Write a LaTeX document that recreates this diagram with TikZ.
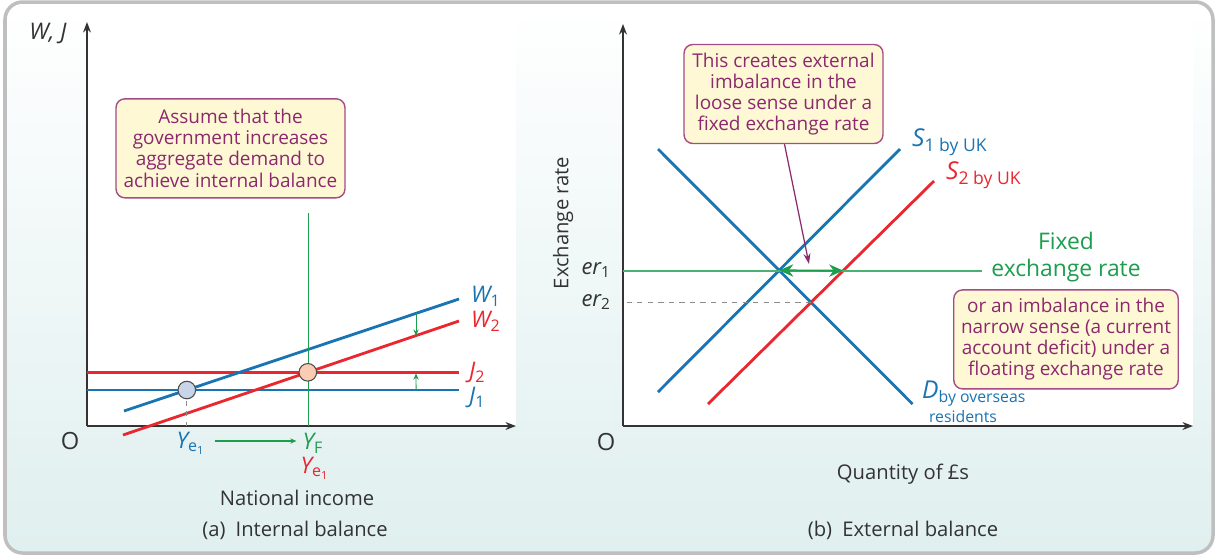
\documentclass[tikz,border=0pt]{standalone}
\usepackage{fontspec}
\setmainfont{Open Sans}
\usepackage{tikz}
\usetikzlibrary{positioning, calc, arrows.meta}

\definecolor{curveblue}{RGB}{24,116,178}
\definecolor{curvered}{RGB}{234,38,46}
\definecolor{fixgreen}{RGB}{28,158,78}
\definecolor{notetext}{RGB}{140,40,110}
\definecolor{noteedge}{RGB}{165,75,135}
\definecolor{notefill}{RGB}{254,249,212}
\definecolor{panelteal}{RGB}{224,239,239}
\definecolor{ptblue}{RGB}{200,212,232}
\definecolor{ptpeach}{RGB}{250,204,180}

\begin{document}
\begin{tikzpicture}[
    x=0.02cm, y=-0.02cm,
    axis/.style={draw=black!80, line width=0.8pt, -{Stealth[length=6pt, width=4.5pt]}},
    curve/.style={line width=1.6pt},
    shiftarrow/.style={draw=fixgreen, line width=0.5pt, -{Stealth[length=3.5pt, width=3pt]}},
    note/.style={
        rectangle, rounded corners=5pt, draw=noteedge, line width=0.8pt,
        fill=notefill, text=notetext, align=center,
        font=\fontsize{10.8}{12}\selectfont
    },
    lab/.style={font=\fontsize{11.5}{12}\selectfont, text=black!80},
    curvelab/.style={anchor=west, font=\fontsize{13}{14}\selectfont\itshape},
    eqpoint/.style={circle, draw=black!70, line width=0.6pt, minimum size=10pt, inner sep=0pt}
]
\useasboundingbox (0,0) rectangle (1217,556);

% 0. Frame and white plot panels
\path[draw=black!25, line width=2pt, rounded corners=10pt,
      top color=white, bottom color=panelteal] (5,2) rectangle (1213,553);
\fill[white] (87,20) rectangle (516,426);
\fill[white] (623,20) rectangle (1193,426);

% ---------------- (a) Internal balance ----------------
% 1. Axes
\coordinate (aO) at (87,426);
\coordinate (aTop) at (87,22);
\coordinate (aRight) at (516,426);
\draw[axis] (aO) -- (aTop);
\draw[axis] (aO) -- (aRight);
\node[lab, font=\fontsize{13}{13}\selectfont\itshape] (wj) at (48,33) {W, J};
\node[lab, font=\fontsize{13.5}{13}\selectfont] (aOlab) at (70,441) {O};

% 2. Withdrawals and injections lines
\coordinate (w1s) at (124,411);  \coordinate (w1e) at (459,299);
\coordinate (w2s) at (123,435);  \coordinate (w2e) at (459,321);
\coordinate (j2s) at (87,372.3); \coordinate (j2e) at (459,372.3);
\coordinate (j1s) at (87,390);   \coordinate (j1e) at (459,390);
\coordinate (yfTop) at (308.5,213);
\coordinate (yfBot) at (308.5,426);

\draw[curve, curvered] (j2s) -- (j2e);
\draw[curve, curveblue] (j1s) -- (j1e);
\draw[curve, curveblue] (w1s) -- (w1e);
\draw[curve, curvered] (w2s) -- (w2e);
\draw[line width=1.1pt, fixgreen] (yfTop) -- (yfBot);

\node[curvelab, text=curveblue] (w1lab) at ($(w1e)+(6,-3)$) {W\textsubscript{\upshape 1}};
\node[curvelab, text=curvered] (w2lab) at ($(w2e)+(6,0)$) {W\textsubscript{\upshape 2}};
\node[curvelab, text=curvered] (j2lab) at ($(j2e)+(4,0)$) {J\textsubscript{\upshape 2}};
\node[curvelab, text=curveblue] (j1lab) at ($(j1e)+(4,7)$) {J\textsubscript{\upshape 1}};

% 3. Equilibrium points
\coordinate (e1a) at (intersection of w1s--w1e and j1s--j1e);
\coordinate (e2a) at (intersection of w2s--w2e and j2s--j2e);
\draw[black!45, dashed, line width=0.6pt] (e1a) -- (e1a |- aO);
\node[eqpoint, fill=ptblue] (pt1) at (e1a) {};
\node[eqpoint, fill=ptpeach] (pt2) at (e2a) {};

% 4. Shift arrows
\coordinate (cutTop) at (416,0);
\coordinate (cutBot) at (416,500);
\coordinate (wsTop) at (intersection of w1s--w1e and cutTop--cutBot);
\coordinate (wsBot) at (intersection of w2s--w2e and cutTop--cutBot);
\coordinate (jsBot) at (intersection of j1s--j1e and cutTop--cutBot);
\coordinate (jsTop) at (416,373.5);
\draw[shiftarrow] (wsTop) -- (wsBot);
\draw[shiftarrow] (jsBot) -- (jsTop);

% 5. Income labels
\node[font=\fontsize{13}{13}\selectfont\itshape, text=curveblue] (ye1) at (191,443) {Y\textsubscript{\upshape e\textsubscript{1}}};
\node[font=\fontsize{13}{13}\selectfont\itshape, text=fixgreen] (yf) at (313,443) {Y\textsubscript{\upshape F}};
\node[font=\fontsize{13}{13}\selectfont\itshape, text=curvered] (ye2) at (315,468) {Y\textsubscript{\upshape e\textsubscript{1}}};
\draw[shiftarrow, line width=0.6pt] (ye1.east) ++(3,-2) coordinate (ymove) -- (ymove -| yf.west);

\node[note, minimum width=4.58cm, minimum height=1.98cm] (leftnote) at (230.5,148.3) {
    Assume that the \\ government increases \\ aggregate demand to \\ achieve internal balance
};

\node[lab] (xlabA) at (297,498) {National income};
\node[lab] (capA) at (295,530) {(a)\enspace Internal balance};

% ---------------- (b) External balance ----------------
% 6. Axes
\coordinate (bO) at (623,426);
\coordinate (bTop) at (623,24);
\coordinate (bRight) at (1193,426);
\draw[axis] (bO) -- (bTop);
\draw[axis] (bO) -- (bRight);
\node[lab, font=\fontsize{13.5}{13}\selectfont] (bOlab) at (606,442) {O};
\node[lab, rotate=90] (ylabB) at (563,223) {Exchange rate};
\node[lab] (xlabB) at (903,474) {Quantity of £s};
\node[lab] (capB) at (903,530) {(b)\enspace External balance};

% 7. Demand and supply lines
\coordinate (ds) at (658,149);  \coordinate (de) at (912.5,404);
\coordinate (s1s) at (658,392); \coordinate (s1e) at (900,149);
\coordinate (s2s) at (708,404); \coordinate (s2e) at (934,181);
\coordinate (er1s) at (623,270.6); \coordinate (er1e) at (982,270.6);

\draw[curve, curveblue] (ds) -- (de);
\draw[curve, curveblue] (s1s) -- (s1e);
\draw[curve, curvered] (s2s) -- (s2e);
\draw[line width=1.1pt, fixgreen!80!white] (er1s) -- (er1e);

\coordinate (eq1) at (intersection of ds--de and s1s--s1e);
\coordinate (eq2) at (intersection of ds--de and s2s--s2e);
\coordinate (eq3) at (intersection of er1s--er1e and s2s--s2e);
\draw[black!45, dashed, line width=0.6pt] (eq2) -- (eq2 -| bO);
\draw[fixgreen, line width=1.1pt, {Stealth[length=8pt, width=7pt]}-{Stealth[length=8pt, width=7pt]}] (eq1) -- (eq3);

\node[lab, font=\fontsize{12.5}{12}\selectfont\itshape, anchor=east] (er1lab) at (617,270) {er\textsubscript{\upshape 1}};
\node[lab, font=\fontsize{12.5}{12}\selectfont\itshape, anchor=east] (er2lab) at (617,302) {er\textsubscript{\upshape 2}};

\node[curvelab, text=curveblue, font=\fontsize{14}{14}\selectfont\itshape] (s1lab) at (906,142) {S\textsubscript{\upshape\fontsize{10}{10}\selectfont 1 by UK}};
\node[curvelab, text=curvered, font=\fontsize{14}{14}\selectfont\itshape] (s2lab) at (940,175) {S\textsubscript{\upshape\fontsize{10}{10}\selectfont 2 by UK}};
\node[curvelab, text=curveblue, font=\fontsize{14}{14}\selectfont\itshape] (dlab) at (916,394) {D\textsubscript{\upshape\fontsize{9}{9}\selectfont by overseas}};
\node[text=curveblue, font=\fontsize{9}{9}\selectfont] (dlab2) at (963,417) {residents};

\node[text=fixgreen, align=center, font=\fontsize{13}{15}\selectfont] (fixlab) at (1066,257) {Fixed \\ exchange rate};

% 8. Notes
\node[note, minimum width=3.98cm, minimum height=1.98cm] (topnote) at (783.5,94) {
    This creates external \\ imbalance in the \\ loose sense under a \\ fixed exchange rate
};
\node[note, minimum width=4.49cm, minimum height=1.98cm] (rightnote) at (1066,339.4) {
    or an imbalance in the \\ narrow sense (a current \\ account deficit) under a \\ floating exchange rate
};
\coordinate (ptr) at (809,264);
\draw[notetext, line width=0.7pt, -{Stealth[length=6pt, width=4pt]}] ($(topnote.south)+(1,0)$) -- (ptr);

\end{tikzpicture}
\end{document}
